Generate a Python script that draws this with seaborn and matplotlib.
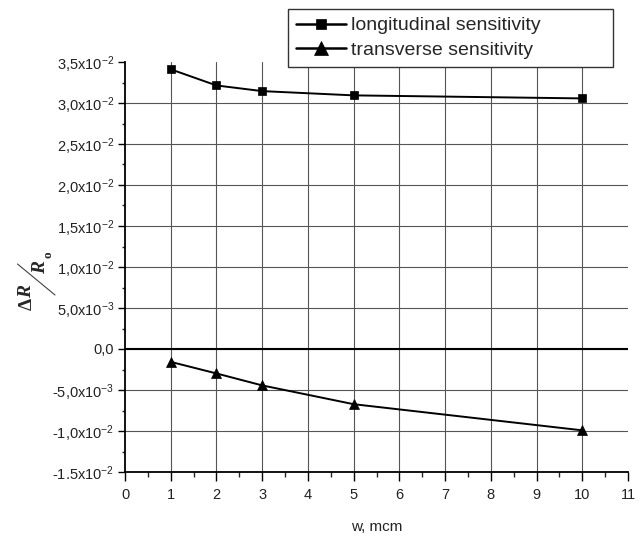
import matplotlib
matplotlib.use("Agg")
import matplotlib.pyplot as plt
import seaborn as sns
import pandas as pd
from matplotlib.ticker import FixedLocator, FixedFormatter, MultipleLocator
from matplotlib.lines import Line2D

# ---- data ----
w_values = [1, 2, 3, 5, 10]
longitudinal = [0.03411, 0.03214, 0.03145, 0.03093, 0.03056]
transverse = [-0.00157, -0.00298, -0.00444, -0.00673, -0.00992]
series_names = ["longitudinal sensitivity", "transverse sensitivity"]

y_ticks = [-0.015, -0.010, -0.005, 0.0, 0.005, 0.010, 0.015, 0.020, 0.025, 0.030, 0.035]
y_tick_labels = ["-1.5x10$^{-2}$", "-1,0x10$^{-2}$", "-5,0x10$^{-3}$", "0,0",
                 "5,0x10$^{-3}$", "1,0x10$^{-2}$", "1,5x10$^{-2}$", "2,0x10$^{-2}$",
                 "2,5x10$^{-2}$", "3,0x10$^{-2}$", "3,5x10$^{-2}$"]
x_ticks = list(range(0, 12))
x_label = "w, mcm"

df = pd.DataFrame({
    "w": w_values * 2,
    "value": longitudinal + transverse,
    "series": [series_names[0]] * len(w_values) + [series_names[1]] * len(w_values),
})

sns.set_style("ticks")
plt.rcParams["font.family"] = ["Liberation Sans", "DejaVu Sans"]
plt.rcParams["mathtext.fontset"] = "custom"
plt.rcParams["mathtext.rm"] = "Liberation Sans"
plt.rcParams["mathtext.it"] = "Liberation Sans:italic"
plt.rcParams["mathtext.bf"] = "Liberation Sans:bold"

fig = plt.figure(figsize=(6.41, 5.40), dpi=100)
ax = fig.add_axes([125 / 641, 1 - 472 / 540, (628 - 125) / 641, (472 - 62) / 540])

sns.lineplot(data=df, x="w", y="value", hue="series", style="series",
             palette=["black", "black"], markers={series_names[0]: "s", series_names[1]: "^"},
             dashes=False, markeredgecolor="black", markeredgewidth=0.5,
             linewidth=1.4, ax=ax, zorder=5)

for ln in ax.lines:
    if ln.get_marker() == "s":
        ln.set_markersize(5.2)
    elif ln.get_marker() == "^":
        ln.set_markersize(6.8)

ax.set_xlim(0, 11)
ax.set_ylim(-0.015, 0.035)
ax.xaxis.set_major_locator(FixedLocator(x_ticks))
ax.xaxis.set_minor_locator(MultipleLocator(0.5))
ax.yaxis.set_major_locator(FixedLocator(y_ticks))
ax.yaxis.set_major_formatter(FixedFormatter(y_tick_labels))
ax.yaxis.set_minor_locator(MultipleLocator(0.0025))

ax.tick_params(axis="x", which="major", direction="out", length=6.5, width=1.0, pad=5,
               labelsize=10.5, colors="black")
ax.tick_params(axis="x", which="minor", direction="out", length=3.5, width=1.0)
ax.tick_params(axis="y", which="major", direction="out", length=5, width=1.0, pad=3,
               labelsize=10.5, colors="black")
ax.tick_params(axis="y", which="minor", direction="out", length=2.5, width=1.0)
for lab in ax.get_xticklabels() + ax.get_yticklabels():
    lab.set_color("#222222")

ax.grid(True, which="major", color="#555555", linewidth=0.8)
ax.set_axisbelow(True)
# no gridline at the top edge / x=0 / x=11
ax.yaxis.get_major_ticks()[-1].gridline.set_visible(False)
xt = ax.xaxis.get_major_ticks()
xt[0].gridline.set_visible(False)
xt[-1].gridline.set_visible(False)

ax.axhline(0, color="black", linewidth=1.5, zorder=3)

for side in ["top", "right"]:
    ax.spines[side].set_visible(False)
for side in ["left", "bottom"]:
    ax.spines[side].set_color("black")
    ax.spines[side].set_linewidth(1.3)

ax.set_xlabel(x_label, fontsize=11, labelpad=13, color="#222222")
ax.set_ylabel("")

handles, labels = ax.get_legend_handles_labels()
for h in handles:
    h.set_linewidth(1.8)
leg = ax.legend(handles, labels, loc="upper left", mode="expand",
                bbox_to_anchor=(288 / 641, 1 - 65 / 540, 325 / 641, 56 / 540),
                bbox_transform=fig.transFigure, fontsize=14, frameon=True,
                fancybox=False, framealpha=1, edgecolor="#333333", borderpad=0.4,
                handlelength=2.6, handletextpad=0.25, labelspacing=0.36,
                markerscale=1.4, borderaxespad=0)
leg.get_frame().set_linewidth(1.0)
leg.set_zorder(10)

# y label: ΔR / R0 as a slanted fraction
serif = "Liberation Serif"
fig.text(27 / 641, 1 - 303.5 / 540, "Δ", rotation=90, ha="center", va="center",
         family=serif, weight="bold", fontsize=14)
fig.text(27 / 641, 1 - 292 / 540, "R", rotation=90, ha="center", va="center",
         family=serif, weight="bold", style="italic", fontsize=14)
fig.text(41 / 641, 1 - 267 / 540, "R", rotation=90, ha="center", va="center",
         family=serif, weight="bold", style="italic", fontsize=14)
fig.text(48.5 / 641, 1 - 255 / 540, "o", rotation=90, ha="center", va="center",
         family=serif, weight="bold", fontsize=9.5)
fig.add_artist(Line2D([17.5 / 641, 55 / 641], [1 - 264 / 540, 1 - 295 / 540],
                      transform=fig.transFigure, color="#444444", linewidth=0.8))

fig.savefig("out.png", dpi=100)
